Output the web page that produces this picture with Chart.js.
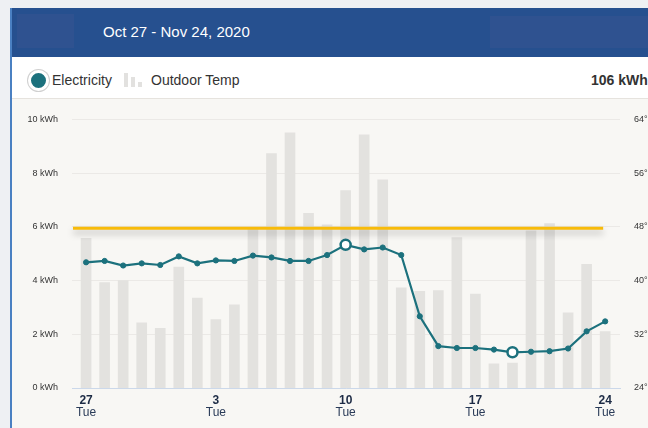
<!DOCTYPE html>
<html>
<head>
<meta charset="utf-8">
<script src="https://cdn.jsdelivr.net/npm/chart.js@4"></script>
<style>
  body { margin: 0; width: 648px; height: 428px; overflow: hidden; background: #eef0f3; font-family: "Liberation Sans", Arial, sans-serif; position: relative; }
  #card { position: absolute; left: 10px; top: 8px; width: 700px; height: 440px; background: #f8f7f4; border-left: 2px solid #4a80c2; }
  #head { position: absolute; left: 0; top: 0; width: 100%; height: 49px; background: #26508f; }
  .blur { position: absolute; background: #2f5290; }
  #title { position: absolute; left: 91px; top: 15px; color: #fff; font-size: 15px; }
  #legend { position: absolute; left: 0; top: 49px; width: 100%; height: 41px; background: #fff; border-bottom: 1px solid #e6e3de; }
  #dot { position: absolute; left: 16px; top: 13px; width: 15px; height: 15px; border-radius: 50%; background: #1c717d; border: 3px solid #fff; box-shadow: 0 0 0 1px #d0d0d0; }
  .lt { position: absolute; top: 15px; font-size: 14px; color: #333; }
  .ib { position: absolute; background: #e2e1df; width: 4px; }
  #total { position: absolute; left: 579px; top: 15px; font-size: 14px; font-weight: bold; color: #333; }
  #wrap { position: absolute; left: 12px; top: 100px; width: 636px; height: 328px; }
</style>
</head>
<body>
<div id="card">
  <div id="head">
    <div class="blur" style="left:5px;top:6px;width:57px;height:34px"></div>
    <div class="blur" style="left:478px;top:8px;width:200px;height:32px"></div>
    <div id="title">Oct 27 - Nov 24, 2020</div>
  </div>
  <div id="legend">
    <div id="dot"></div>
    <div class="lt" style="left:40px">Electricity</div>
    <div class="ib" style="left:112px;top:16px;height:14px"></div>
    <div class="ib" style="left:119px;top:20px;height:10px"></div>
    <div class="ib" style="left:126px;top:25px;height:5px"></div>
    <div class="lt" style="left:139px">Outdoor Temp</div>
    <div id="total">106 kWh</div>
  </div>
</div>
<div id="wrap"><canvas id="c" width="636" height="328"></canvas></div>
<script>
// Days Oct 27 - Nov 24
const days = ['27','28','29','30','31','1','2','3','4','5','6','7','8','9','10','11','12','13','14','15','16','17','18','19','20','21','22','23','24'];
const weekdays = ['Tue','Wed','Thu','Fri','Sat','Sun','Mon','Tue','Wed','Thu','Fri','Sat','Sun','Mon','Tue','Wed','Thu','Fri','Sat','Sun','Mon','Tue','Wed','Thu','Fri','Sat','Sun','Mon','Tue'];

// Daily electricity (kWh)
const electricity = [4.68, 4.73, 4.56, 4.64, 4.58, 4.90, 4.64, 4.75, 4.73, 4.93, 4.86, 4.73, 4.73, 4.95, 5.33,
  5.16, 5.23, 4.95, 2.67, 1.56, 1.49, 1.49, 1.43, 1.33, 1.35, 1.37, 1.47, 2.11, 2.48];

// Outdoor temperature (°F)
const outdoorTemp = [46.3, 39.7, 40.0, 33.7, 32.9, 42.0, 37.4, 34.2, 36.4, 47.7, 58.9, 62.0, 50.0, 48.3, 53.4,
  61.7, 55.0, 38.9, 38.4, 38.5, 46.4, 38.0, 27.6, 27.7, 47.4, 48.5, 35.2, 42.4, 32.4];

const highlighted = [14, 23];   // open-circle points
const budgetLine = 5.95;       // kWh

const kwhTicks = [0, 2, 4, 6, 8, 10];
const tempTicks = [24, 32, 40, 48, 56, 64];
const dayTicks = [0, 7, 14, 21, 28];   // Tuesdays

const budgetPlugin = {
    id: 'budget',
    afterDatasetsDraw(chart) {
        const ctx = chart.ctx;
        const y = chart.scales.y.getPixelForValue(budgetLine);
        const x0 = chart.chartArea.left + 1;
        const x1 = chart.scales.x.getPixelForValue(days.length - 1) - 2;
        ctx.save();
        ctx.strokeStyle = '#f8bb0a';
        ctx.lineWidth = 3;
        ctx.shadowColor = 'rgba(0,0,0,0.28)';
        ctx.shadowBlur = 7;
        ctx.shadowOffsetY = 4;
        ctx.beginPath();
        ctx.moveTo(x0, y);
        ctx.lineTo(x1, y);
        ctx.stroke();
        ctx.restore();
    }
};

const xRange = { min: -0.76, max: 28.8, offset: false };

new Chart(document.getElementById('c'), {
    data: {
        datasets: [
            {
                type: 'line',
                label: 'Electricity',
                data: electricity.map((v, i) => ({ x: i, y: v })),
                yAxisID: 'y',
                borderColor: '#1c717d',
                borderWidth: 2.2,
                tension: 0,
                pointRadius: c => highlighted.includes(c.dataIndex) ? 5 : 2.6,
                pointBackgroundColor: c => highlighted.includes(c.dataIndex) ? '#ffffff' : '#1c717d',
                pointBorderColor: '#1c717d',
                pointBorderWidth: c => highlighted.includes(c.dataIndex) ? 2.5 : 1,
                order: 0
            },
            {
                type: 'bar',
                label: 'Outdoor Temp',
                data: outdoorTemp.map((v, i) => ({ x: i, y: v })),
                yAxisID: 'y1',
                backgroundColor: '#e3e2df',
                barThickness: 10,
                order: 1
            }
        ]
    },
    options: {
        responsive: false,
        animation: false,
        layout: { padding: { top: 17, left: 0, right: 0, bottom: 0 } },
        plugins: { legend: { display: false }, tooltip: { enabled: false } },
        scales: {
            x: {
                type: 'linear',
                position: 'bottom',
                ...xRange,
                grid: { display: false, drawTicks: false, offset: false },
                border: { color: '#cbd8ea', width: 1 },
                afterBuildTicks: s => { s.ticks = dayTicks.map(v => ({ value: v })); },
                ticks: {
                    autoSkip: false, maxRotation: 0, padding: 5,
                    color: '#1d2b45', font: { family: 'Liberation Sans', size: 12, weight: 'bold' },
                    callback: v => days[v]
                },
                afterFit: s => { s.height = 17; }
            },
            x2: {
                type: 'linear',
                position: 'bottom',
                ...xRange,
                grid: { display: false, drawTicks: false },
                border: { display: false },
                afterBuildTicks: s => { s.ticks = dayTicks.map(v => ({ value: v })); },
                ticks: {
                    autoSkip: false, maxRotation: 0, padding: 0,
                    color: '#2a3b58', font: { family: 'Liberation Sans', size: 12 },
                    callback: v => weekdays[v]
                },
                afterFit: s => { s.height = 23; }
            },
            y: {
                position: 'left',
                min: 0, max: 10,
                grid: { color: '#ebe9e6', drawTicks: false },
                border: { display: false },
                afterBuildTicks: s => { s.ticks = kwhTicks.map(v => ({ value: v })); },
                ticks: {
                    padding: 14, color: '#333',
                    font: { family: 'Liberation Sans', size: 9 },
                    callback: v => v + ' kWh'
                },
                afterFit: s => { s.width = 60; }
            },
            y1: {
                position: 'right',
                min: 24, max: 64,
                grid: { display: false, drawTicks: false },
                border: { display: false },
                afterBuildTicks: s => { s.ticks = tempTicks.map(v => ({ value: v })); },
                ticks: {
                    padding: 14, color: '#333',
                    font: { family: 'Liberation Sans', size: 9 },
                    callback: v => v + '°'
                },
                afterFit: s => { s.width = 28; }
            }
        }
    },
    plugins: [budgetPlugin]
});
</script>
</body>
</html>
